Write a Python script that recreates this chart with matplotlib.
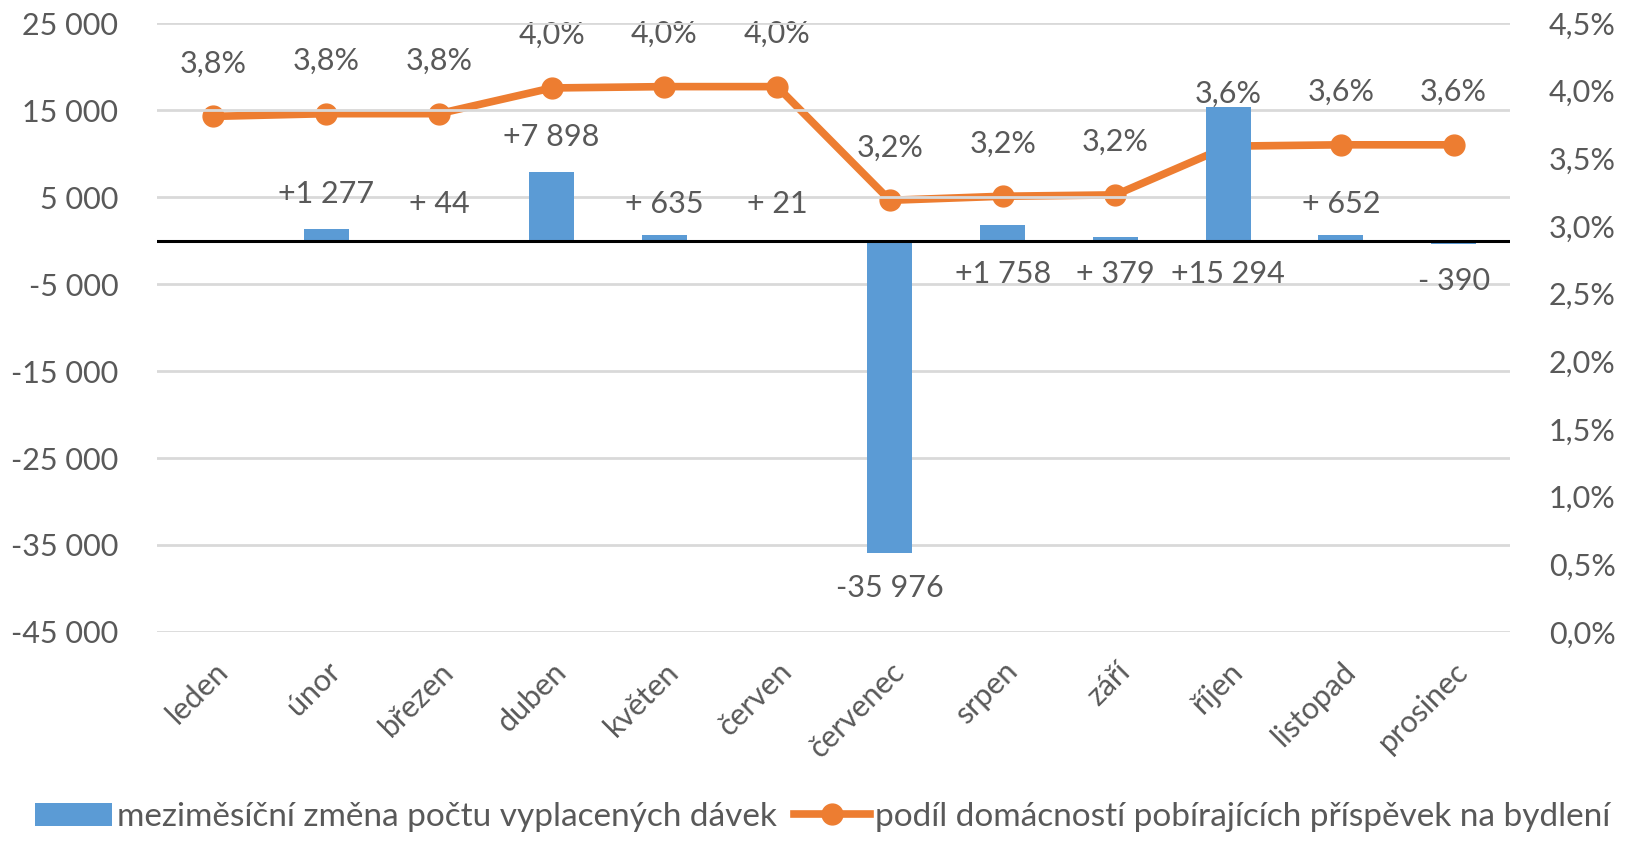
import numpy as np
import matplotlib.pyplot as plt
from matplotlib.ticker import FuncFormatter

plt.rcParams['font.family'] = ['Lato', 'DejaVu Sans']

months = ['leden', 'únor', 'březen', 'duben', 'květen', 'červen',
          'červenec', 'srpen', 'září', 'říjen', 'listopad', 'prosinec']
# month-over-month change in number of paid benefits (leden has none)
change = [np.nan, 1277, 44, 7898, 635, 21, -35976, 1758, 379, 15294, 652, -390]
change_labels = ['', '+1 277', '+ 44', '+7 898', '+ 635', '+ 21', '-35 976',
                 '+1 758', '+ 379', '+15 294', '+ 652', '- 390']
# where the bar labels sit on the left axis (Excel manual label positions)
change_label_y = [0, 5300, 4250, 11850, 4250, 4250, -40000,
                  -3800, -3800, -3800, 4250, -4700]
# share of households receiving housing allowance
share = [0.0381, 0.0383, 0.0383, 0.0402, 0.0403, 0.0403,
         0.0319, 0.0322, 0.0323, 0.0359, 0.0360, 0.0360]
share_labels = ['3,8%', '3,8%', '3,8%', '4,0%', '4,0%', '4,0%',
                '3,2%', '3,2%', '3,2%', '3,6%', '3,6%', '3,6%']

blue = '#5B9BD5'
orange = '#ED7D31'
grey_text = '#595959'
fs = 22

fig = plt.figure(figsize=(16.46, 8.43), dpi=100)
ax = fig.add_axes([0.0954, 0.2503, 0.822, 0.7224])
ax2 = ax.twinx()

x = np.arange(len(months))
ax.bar(x, change, width=0.4, color=blue, zorder=2,
       label='meziměsíční změna počtu vyplacených dávek')
ax.axhline(0, color='black', lw=2.2, zorder=3)

ax.set_ylim(-45000, 25000)
ax.set_yticks(np.arange(-45000, 25001, 10000))
ax.yaxis.set_major_formatter(FuncFormatter(lambda v, p: f'{v:,.0f}'.replace(',', ' ')))
ax.grid(axis='y', color='#d9d9d9', lw=2, zorder=0)
ax.set_axisbelow(True)
ax.set_xlim(-0.5, len(months) - 0.5)
ax.set_xticks(x)
ax.set_xticklabels(months, rotation=45, ha='right', rotation_mode='anchor')

for xi, lab, ly in zip(x, change_labels, change_label_y):
    if lab:
        ax.text(xi, ly, lab, ha='center', va='center', fontsize=fs, color=grey_text, zorder=5)

ax2.plot(x, share, color=orange, lw=5.5, marker='o', ms=15, zorder=4,
         label='podíl domácností pobírajících příspěvek na bydlení')
ax2.set_ylim(0, 0.045)
ax2.set_yticks(np.arange(0, 0.0451, 0.005))
ax2.yaxis.set_major_formatter(FuncFormatter(lambda v, p: f'{v * 100:.1f}%'.replace('.', ',')))
for xi, yi, lab in zip(x, share, share_labels):
    ax2.annotate(lab, (xi, yi), xytext=(0, 38), textcoords='offset points',
                 ha='center', va='center', fontsize=fs, color=grey_text)

ax.set_zorder(ax2.get_zorder() + 1)
ax.patch.set_visible(False)

for a in (ax, ax2):
    for s in a.spines.values():
        s.set_visible(False)
    a.tick_params(length=0, labelsize=fs, labelcolor=grey_text)
ax.tick_params(axis='y', pad=28)
ax2.tick_params(axis='y', pad=28)
ax.tick_params(axis='x', pad=18)

h1, l1 = ax.get_legend_handles_labels()
h2, l2 = ax2.get_legend_handles_labels()
fig.legend(h1 + h2, l1 + l2, loc='center', bbox_to_anchor=(0.5, 0.031), ncol=2,
           frameon=False, fontsize=24, labelcolor=grey_text, handlelength=2.3,
           handletextpad=0.15, columnspacing=0.5)

fig.savefig('out.png', dpi=100)
